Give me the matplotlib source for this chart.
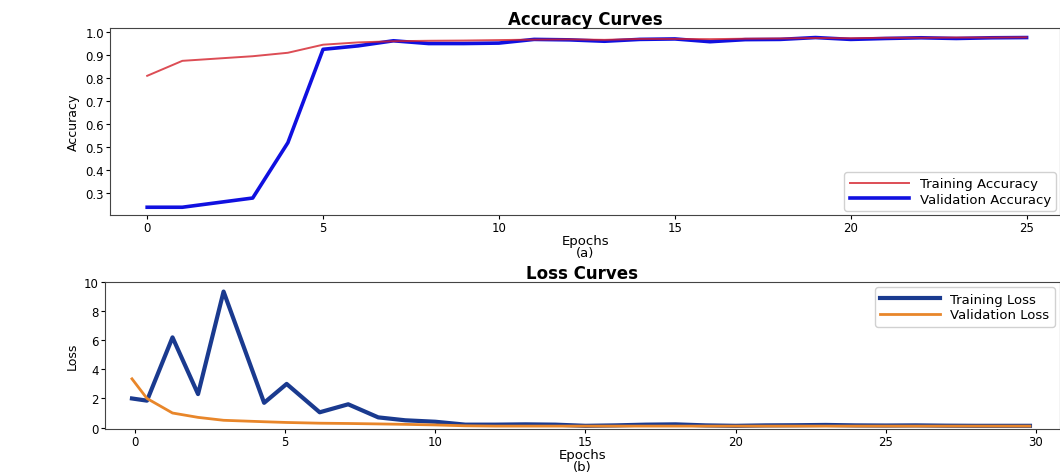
import matplotlib
matplotlib.use('Agg')
import matplotlib.pyplot as plt

# accuracy curves (a)
acc_epochs = list(range(26))
train_acc = [0.81, 0.875, 0.885, 0.895, 0.91, 0.945, 0.955, 0.96, 0.962, 0.963,
             0.965, 0.967, 0.968, 0.966, 0.97, 0.97, 0.969, 0.971, 0.972, 0.974,
             0.973, 0.975, 0.975, 0.976, 0.976, 0.977]
val_acc = [0.24, 0.24, 0.26, 0.28, 0.52, 0.925, 0.94, 0.962, 0.95, 0.95,
           0.952, 0.968, 0.966, 0.96, 0.968, 0.97, 0.958, 0.967, 0.968, 0.976,
           0.968, 0.972, 0.975, 0.972, 0.975, 0.976]
acc_ticks = [0.3, 0.4, 0.5, 0.6, 0.7, 0.8, 0.9, 1.0]

# loss curves (b)
loss_epochs = [-0.1, 0.4, 1.25, 2.1, 2.95, 4.3, 5.05, 6.15, 7.1, 8.1, 9, 10, 11, 12,
               13, 14, 15, 16, 17, 18, 19, 20, 21, 22, 23, 24, 25, 26, 27, 28, 29, 29.8]
train_loss = [2.0, 1.85, 6.2, 2.3, 9.35, 1.7, 3.0, 1.05, 1.6, 0.7, 0.5, 0.4, 0.2,
              0.2, 0.22, 0.2, 0.12, 0.15, 0.2, 0.22, 0.15, 0.12, 0.15, 0.16, 0.18,
              0.15, 0.14, 0.15, 0.13, 0.12, 0.12, 0.12]
val_loss = [3.35, 2.0, 1.0, 0.7, 0.5, 0.4, 0.35, 0.3, 0.28, 0.25, 0.22, 0.18, 0.12,
            0.1, 0.1, 0.1, 0.1, 0.1, 0.1, 0.1, 0.1, 0.1, 0.1, 0.1, 0.1, 0.1, 0.1,
            0.1, 0.1, 0.1, 0.1, 0.1]
loss_ticks = [0, 2, 4, 6, 8, 10]

fig = plt.figure(figsize=(10.6, 4.77), dpi=100)
ax1 = fig.add_axes([0.104, 0.547, 0.896, 0.392])
ax2 = fig.add_axes([0.099, 0.0985, 0.901, 0.308])

ax1.plot(acc_epochs, val_acc, color='#1010e0', lw=2.6, label='Validation Accuracy')
ax1.plot(acc_epochs, train_acc, color='#d4202a', lw=1.4, alpha=0.8, label='Training Accuracy')
ax1.set_xlim(-1.05, 25.95)
ax1.set_ylim(0.206, 1.017)
ax1.set_yticks(acc_ticks)
ax1.set_title('Accuracy Curves', fontsize=12, fontweight='bold', pad=2)
ax1.set_xlabel('Epochs\n(a)', fontsize=9.5, labelpad=0, linespacing=0.9)
ax1.set_ylabel('Accuracy', fontsize=9)
h, l = ax1.get_legend_handles_labels()
ax1.legend(h[::-1], l[::-1], loc='lower right', fontsize=9.5, handlelength=4.5,
           borderaxespad=0.3, labelspacing=0.2, framealpha=0.9, edgecolor='#cccccc')

ax2.plot(loss_epochs, train_loss, color='#1a3a8f', lw=3, label='Training Loss')
ax2.plot(loss_epochs, val_loss, color='#e8862a', lw=2, label='Validation Loss')
ax2.set_xlim(-1.0, 30.8)
ax2.set_ylim(-0.1, 10)
ax2.set_yticks(loss_ticks)
ax2.set_title('Loss Curves', fontsize=12, fontweight='bold', pad=2)
ax2.set_xlabel('Epochs\n(b)', fontsize=9.5, labelpad=0, linespacing=0.9)
ax2.set_ylabel('Loss', fontsize=9)
ax2.legend(loc='upper right', fontsize=9.5, handlelength=4.5, borderaxespad=0.4,
           labelspacing=0.2, framealpha=0.9, edgecolor='#cccccc')

for ax in (ax1, ax2):
    ax.tick_params(labelsize=8.5, length=3, pad=1.5)
    for s in ax.spines.values():
        s.set_color('#444444')

fig.savefig('out.png', dpi=100)
